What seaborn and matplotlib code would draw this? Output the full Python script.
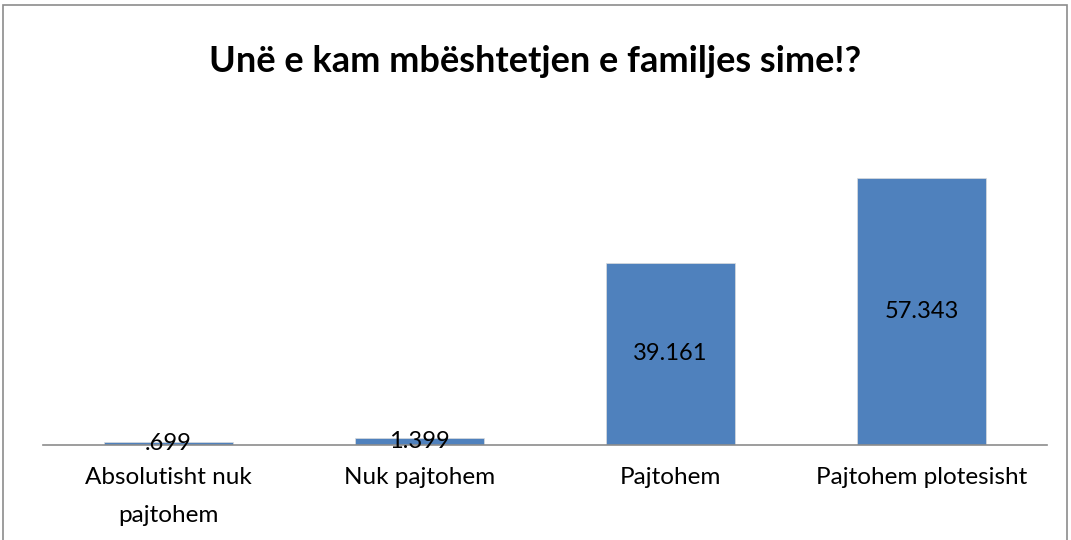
import matplotlib
matplotlib.use("Agg")
import matplotlib.pyplot as plt
import seaborn as sns
import pandas as pd
from matplotlib.patches import Rectangle

# chart data
categories = ["Absolutisht nuk\npajtohem", "Nuk pajtohem", "Pajtohem", "Pajtohem plotesisht"]
values = [0.699, 1.399, 39.161, 57.343]
value_labels = [".699", "1.399", "39.161", "57.343"]
title = "Unë e kam mbështetjen e familjes sime!?"

sns.set_theme(style="white")
plt.rcParams['font.family'] = ['Lato', 'DejaVu Sans']

df = pd.DataFrame({"category": categories, "value": values})

fig = plt.figure(figsize=(10.71, 5.40), dpi=100)
ax = fig.add_axes([43 / 1071, 1 - 445 / 540, 1004 / 1071, 335 / 540])

sns.barplot(data=df, x="category", y="value", color="#4F81BD", saturation=1,
            width=0.51, edgecolor="#dcdcdc", linewidth=0.5, ax=ax)

ax.bar_label(ax.containers[0], labels=value_labels, label_type="center",
             fontsize=17, color="black")

ax.set_ylim(0, 72)
ax.set_xlim(-0.5, 3.5)
ax.set_xlabel("")
ax.set_ylabel("")
ax.set_yticks([])
for side in ["top", "right", "left"]:
    ax.spines[side].set_visible(False)
ax.spines["bottom"].set_color("#8c8c8c")
ax.spines["bottom"].set_linewidth(1.2)
ax.tick_params(axis="x", length=0, pad=16, labelsize=17.5, colors="black")
for lbl in ax.get_xticklabels():
    lbl.set_linespacing(2.0)

fig.text(0.5, 1 - 62 / 540, title, ha="center", va="center",
         fontsize=26, fontweight="bold", color="black")

# outer chart border
fig.patches.append(Rectangle((3 / 1071, -0.1), 1064 / 1071, 1.1 - 5 / 540,
                             transform=fig.transFigure, fill=False,
                             edgecolor="#8c8c8c", linewidth=1.2))

fig.savefig("out.png", dpi=100)
